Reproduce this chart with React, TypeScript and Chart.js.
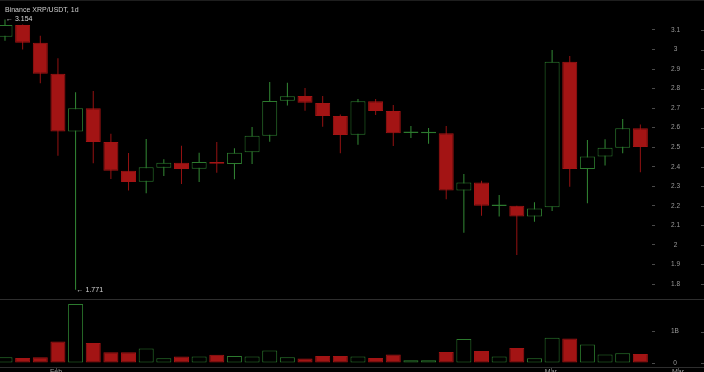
import { useEffect, useRef } from "react";
import { Chart, registerables } from "chart.js";

Chart.register(...registerables);

// ---- data (XRP/USDT daily) ----
const opens = [3.066, 3.126, 3.035, 2.876, 2.58, 2.699, 2.527, 2.38, 2.324, 2.395, 2.421, 2.39, 2.424, 2.414, 2.474, 2.559, 2.738, 2.762, 2.726, 2.66, 2.564, 2.735, 2.685, 2.573, 2.571, 2.571, 2.278, 2.319, 2.199, 2.2, 2.145, 2.193, 2.938, 2.389, 2.452, 2.498, 2.597];
const highs = [3.154, 3.128, 3.071, 2.955, 2.781, 2.788, 2.569, 2.47, 2.542, 2.438, 2.508, 2.472, 2.527, 2.495, 2.604, 2.834, 2.83, 2.803, 2.762, 2.667, 2.747, 2.747, 2.716, 2.609, 2.598, 2.609, 2.363, 2.329, 2.256, 2.201, 2.218, 2.998, 2.967, 2.537, 2.541, 2.645, 2.617];
const lows = [3.045, 3.0, 2.827, 2.457, 1.771, 2.418, 2.337, 2.278, 2.264, 2.353, 2.312, 2.322, 2.37, 2.336, 2.414, 2.528, 2.713, 2.687, 2.605, 2.469, 2.513, 2.665, 2.506, 2.547, 2.518, 2.234, 2.063, 2.15, 2.145, 1.949, 2.119, 2.174, 2.298, 2.213, 2.406, 2.469, 2.372];
const closes = [3.126, 3.035, 2.876, 2.58, 2.699, 2.527, 2.38, 2.322, 2.397, 2.421, 2.389, 2.424, 2.415, 2.472, 2.559, 2.737, 2.761, 2.728, 2.66, 2.563, 2.735, 2.685, 2.571, 2.577, 2.574, 2.278, 2.319, 2.2, 2.202, 2.145, 2.187, 2.938, 2.389, 2.452, 2.498, 2.597, 2.501];
// volume in billions
const volumes = [0.18, 0.16, 0.18, 0.69, 1.885, 0.64, 0.34, 0.34, 0.46, 0.15, 0.21, 0.21, 0.26, 0.22, 0.21, 0.4, 0.18, 0.14, 0.22, 0.22, 0.21, 0.16, 0.27, 0.085, 0.085, 0.35, 0.77, 0.38, 0.21, 0.48, 0.15, 0.81, 0.78, 0.59, 0.27, 0.31, 0.29];

const priceTicks = [1.8, 1.9, 2.0, 2.1, 2.2, 2.3, 2.4, 2.5, 2.6, 2.7, 2.8, 2.9, 3.0, 3.1];
const volumeTicks = [0, 1];
const volumeTickLabels = ["0", "1B"];
const monthLabels = ["Feb", "Mar", "Mar"];
const monthPositions = [2.89, 30.93, 38.13];
const title = "Binance XRP/USDT, 1d";
const highMark = 3.154;
const highIndex = 0;
const lowMark = 1.771;
const lowIndex = 4;

const GREEN = "#2c7a2e";
const GREEN_WICK = "#338a35";
const RED = "#a31414";
const RED_WICK = "#951212";
const TICK_COLOR = "#9a9a9a";
const DASH_COLOR = "#4a4a4a";
const LINE_COLOR = "#2e2e2e";
const FONT = "'Liberation Sans', Arial, sans-serif";

const X_MIN = -0.283;
const X_MAX = 36.66;

export default function App() {
  const priceRef = useRef<HTMLCanvasElement>(null);
  const volRef = useRef<HTMLCanvasElement>(null);

  useEffect(() => {
    document.body.style.margin = "0";
    document.body.style.background = "#000";
    const up = closes.map((c, i) => c >= opens[i]);

    const pricePlugin = {
      id: "priceDeco",
      afterDraw(chart: any) {
        const ctx = chart.ctx;
        const xs = chart.scales.x;
        const ys = chart.scales.y;
        ctx.save();
        ctx.fillStyle = "#1e1e1e";
        ctx.fillRect(0, 0, 704, 1);
        ctx.font = `7px ${FONT}`;
        ctx.fillStyle = "#cfcfcf";
        ctx.textBaseline = "middle";
        ctx.textAlign = "left";
        ctx.fillText(title, 5, 10);
        ctx.fillStyle = "#d8d8d8";
        ctx.fillText("\u2190 " + highMark.toFixed(3), xs.getPixelForValue(highIndex) + 1, ys.getPixelForValue(highMark));
        ctx.fillText("\u2190 " + lowMark.toFixed(3), xs.getPixelForValue(lowIndex) + 1, ys.getPixelForValue(lowMark));
        ctx.strokeStyle = DASH_COLOR;
        ctx.lineWidth = 1;
        priceTicks.forEach((v) => {
          const y = Math.round(ys.getPixelForValue(v)) + 0.5;
          ctx.beginPath();
          ctx.moveTo(701, y);
          ctx.lineTo(704, y);
          ctx.stroke();
        });
        ctx.restore();
      },
    };

    const volPlugin = {
      id: "volDeco",
      afterDraw(chart: any) {
        const ctx = chart.ctx;
        const xs = chart.scales.x;
        const ys = chart.scales.y;
        ctx.save();
        ctx.strokeStyle = LINE_COLOR;
        ctx.lineWidth = 1;
        ctx.beginPath();
        ctx.moveTo(0, 1.5);
        ctx.lineTo(704, 1.5);
        ctx.moveTo(0, 69.5);
        ctx.lineTo(704, 69.5);
        ctx.stroke();
        ctx.strokeStyle = DASH_COLOR;
        volumeTicks.forEach((v) => {
          const y = Math.round(ys.getPixelForValue(v)) + 0.5;
          ctx.beginPath();
          ctx.moveTo(701, y);
          ctx.lineTo(704, y);
          ctx.stroke();
        });
        ctx.font = `7px ${FONT}`;
        ctx.fillStyle = TICK_COLOR;
        ctx.textAlign = "center";
        ctx.textBaseline = "top";
        monthLabels.forEach((lab, i) => {
          const x = xs.getPixelForValue(monthPositions[i]);
          ctx.beginPath();
          ctx.moveTo(Math.round(x) + 0.5, 70);
          ctx.lineTo(Math.round(x) + 0.5, 72);
          ctx.stroke();
          ctx.fillText(lab, x, 71);
        });
        ctx.restore();
      },
    };

    const yAxisCommon = (ticksArr: number[], fmt: (v: number) => string) => ({
      position: "right" as const,
      afterFit: (s: any) => {
        s.width = 52;
        s.paddingTop = 0;
        s.paddingBottom = 0;
        s.paddingLeft = 0;
        s.paddingRight = 0;
      },
      afterBuildTicks: (s: any) => {
        s.ticks = ticksArr.map((v) => ({ value: v }));
      },
      ticks: {
        color: TICK_COLOR,
        font: { size: 6.5, family: FONT },
        padding: 16,
        crossAlign: "center" as const,
        callback: (v: any) => fmt(Number(v)),
      },
      grid: { drawOnChartArea: false, drawTicks: true, tickLength: 3, color: DASH_COLOR },
      border: { display: false },
    });

    const price = new Chart(priceRef.current!, {
      type: "bar",
      data: {
        datasets: [
          {
            label: "body",
            data: opens.map((o, i) => ({ x: i, y: [o, closes[i]] })) as any,
            backgroundColor: up.map((u) => (u ? "#000" : RED)),
            borderColor: up.map((u) => (u ? GREEN : RED)),
            borderWidth: 1,
            borderSkipped: false,
            barThickness: 15,
            minBarLength: 1.5,
            grouped: false,
            inflateAmount: 0,
            order: 0,
          } as any,
          {
            label: "wick",
            data: lows.map((l, i) => ({ x: i, y: [l, highs[i]] })) as any,
            backgroundColor: up.map((u) => (u ? GREEN_WICK : RED_WICK)),
            borderWidth: 0,
            barThickness: 1,
            grouped: false,
            inflateAmount: 0,
            order: 1,
          } as any,
        ],
      },
      options: {
        animation: false,
        responsive: false,
        maintainAspectRatio: false,
        events: [],
        layout: { padding: 0 },
        plugins: { legend: { display: false }, tooltip: { enabled: false } },
        scales: {
          x: { type: "linear", display: false, min: X_MIN, max: X_MAX, offset: false },
          y: {
            ...yAxisCommon(priceTicks, (v) => String(Number(v.toFixed(1)))),
            min: 1.7285,
            max: 3.2535,
          },
        },
      } as any,
      plugins: [pricePlugin],
    });

    const vol = new Chart(volRef.current!, {
      type: "bar",
      data: {
        datasets: [
          {
            label: "volume",
            data: volumes.map((v, i) => ({ x: i, y: v })) as any,
            backgroundColor: up.map((u) => (u ? "#000" : RED)),
            borderColor: up.map((u) => (u ? GREEN : RED)),
            borderWidth: 1,
            borderSkipped: false,
            barThickness: 15,
            inflateAmount: 0,
          } as any,
        ],
      },
      options: {
        animation: false,
        responsive: false,
        maintainAspectRatio: false,
        events: [],
        layout: { padding: 0 },
        plugins: { legend: { display: false }, tooltip: { enabled: false } },
        scales: {
          x: { type: "linear", display: false, min: X_MIN, max: X_MAX, offset: false },
          y: {
            ...yAxisCommon(volumeTicks, (v) => volumeTickLabels[volumeTicks.indexOf(v)] ?? ""),
            min: -0.2875,
            max: 2.0767,
          },
        },
      } as any,
      plugins: [volPlugin],
    });

    return () => {
      price.destroy();
      vol.destroy();
    };
  }, []);

  return (
    <div style={{ position: "absolute", left: 0, top: 0, width: 704, height: 372, background: "#000", overflow: "hidden" }}>
      <canvas ref={priceRef} width={704} height={298} style={{ position: "absolute", left: 0, top: 0, width: 704, height: 298, display: "block" }} />
      <canvas ref={volRef} width={704} height={74} style={{ position: "absolute", left: 0, top: 298, width: 704, height: 74, display: "block" }} />
    </div>
  );
}
